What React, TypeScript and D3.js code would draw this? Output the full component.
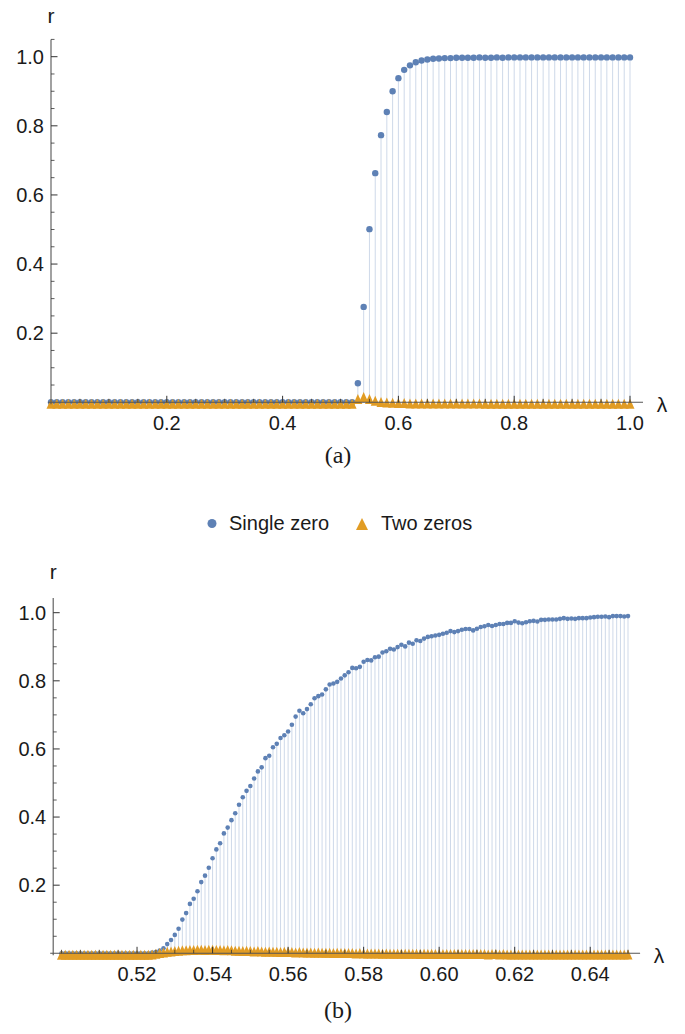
import * as d3 from 'd3';

// panel (a): lambda = 0.00 .. 1.00, step 0.01
const LAMBDA_A_START = 0;
const LAMBDA_A_STEP = 0.01;
const singleZeroA = [
  0, 0, 0, 0, 0, 0, 0, 0, 0, 0,
  0, 0, 0, 0, 0, 0, 0, 0, 0, 0,
  0, 0, 0, 0, 0, 0, 0, 0, 0, 0,
  0, 0, 0, 0, 0, 0, 0, 0, 0, 0,
  0, 0, 0, 0, 0, 0, 0, 0, 0, 0,
  0, 0, 0, 0.055, 0.276, 0.501, 0.663, 0.773, 0.840, 0.900,
  0.938, 0.962, 0.975, 0.984, 0.989, 0.992, 0.994, 0.995, 0.996, 0.996,
  0.997, 0.997, 0.997, 0.997, 0.998, 0.997, 0.997, 0.998, 0.997, 0.998,
  0.998, 0.998, 0.998, 0.998, 0.998, 0.998, 0.998, 0.998, 0.998, 0.998,
  0.998, 0.998, 0.998, 0.998, 0.998, 0.998, 0.998, 0.998, 0.998, 0.998,
  0.998,
];
const twoZerosA = [
  0, 0, 0, 0, 0, 0, 0, 0, 0, 0,
  0, 0, 0, 0, 0, 0, 0, 0, 0, 0,
  0, 0, 0, 0, 0, 0, 0, 0, 0, 0,
  0, 0, 0, 0, 0, 0, 0, 0, 0, 0,
  0, 0, 0, 0, 0, 0, 0, 0, 0, 0,
  0, 0, 0, 0.014, 0.020, 0.014, 0.009, 0.005, 0.004, 0.003,
  0.002, 0.002, 0.001, 0.001, 0.001, 0.001, 0.001, 0.001, 0.001, 0.001,
  0.001, 0.001, 0.001, 0.001, 0.001, 0, 0, 0, 0, 0,
  0, 0, 0, 0, 0, 0, 0, 0, 0, 0,
  0, 0, 0, 0, 0, 0, 0, 0, 0, 0,
  0,
];

// panel (b): lambda = 0.500 .. 0.650, step 0.001
const LAMBDA_B_START = 0.5;
const LAMBDA_B_STEP = 0.001;
const singleZeroB = [
  0, 0, 0, 0, 0, 0, 0, 0, 0, 0,
  0, 0, 0, 0, 0, 0, 0, 0, 0, 0,
  0, 0, 0, 0, 0.002, 0.004, 0.008, 0.015, 0.027, 0.039,
  0.054, 0.072, 0.099, 0.118, 0.145, 0.160, 0.182, 0.209, 0.228, 0.251,
  0.279, 0.305, 0.323, 0.352, 0.369, 0.391, 0.411, 0.436, 0.458, 0.477,
  0.491, 0.513, 0.534, 0.546, 0.573, 0.580, 0.605, 0.615, 0.632, 0.640,
  0.651, 0.671, 0.695, 0.712, 0.705, 0.717, 0.731, 0.749, 0.755, 0.760,
  0.775, 0.789, 0.792, 0.797, 0.807, 0.816, 0.825, 0.838, 0.837, 0.841,
  0.856, 0.861, 0.860, 0.869, 0.871, 0.883, 0.887, 0.894, 0.892, 0.899,
  0.906, 0.901, 0.912, 0.909, 0.919, 0.917, 0.924, 0.929, 0.931, 0.933,
  0.935, 0.938, 0.941, 0.946, 0.943, 0.946, 0.950, 0.952, 0.952, 0.948,
  0.953, 0.958, 0.960, 0.964, 0.961, 0.964, 0.967, 0.967, 0.970, 0.970,
  0.975, 0.971, 0.969, 0.972, 0.975, 0.976, 0.974, 0.979, 0.979, 0.980,
  0.980, 0.980, 0.982, 0.984, 0.982, 0.983, 0.982, 0.984, 0.984, 0.984,
  0.986, 0.987, 0.988, 0.988, 0.989, 0.987, 0.990, 0.990, 0.990, 0.989,
  0.990,
];
const twoZerosB = [
  0, 0, 0, 0, 0, 0, 0, 0, 0, 0,
  0, 0, 0, 0, 0, 0, 0, 0, 0, 0,
  0, 0, 0, 0, 0.001, 0.003, 0.005, 0.007, 0.009, 0.010,
  0.011, 0.012, 0.013, 0.013, 0.014, 0.014, 0.015, 0.015, 0.014, 0.015,
  0.015, 0.014, 0.014, 0.013, 0.014, 0.013, 0.012, 0.012, 0.011, 0.012,
  0.011, 0.010, 0.011, 0.010, 0.009, 0.010, 0.009, 0.009, 0.008, 0.009,
  0.008, 0.008, 0.007, 0.008, 0.007, 0.007, 0.007, 0.006, 0.007, 0.006,
  0.006, 0.006, 0.005, 0.006, 0.005, 0.005, 0.005, 0.005, 0.004, 0.005,
  0.004, 0.004, 0.004, 0.004, 0.004, 0.003, 0.004, 0.003, 0.003, 0.003,
  0.003, 0.003, 0.003, 0.003, 0.003, 0.002, 0.003, 0.002, 0.003, 0.002,
  0.002, 0.002, 0.002, 0.002, 0.002, 0.002, 0.002, 0.002, 0.002, 0.002,
  0.002, 0.002, 0.002, 0.001, 0.002, 0.002, 0.001, 0.002, 0.001, 0.001,
  0.001, 0.001, 0.001, 0.001, 0.001, 0.001, 0.001, 0.001, 0.001, 0.001,
  0.001, 0.001, 0.001, 0.001, 0.001, 0.001, 0.001, 0.001, 0.001, 0.001,
  0.001, 0.001, 0.001, 0.001, 0.001, 0.001, 0.001, 0.001, 0.001, 0.001,
  0.001,
];

const xTicksA = [0.2, 0.4, 0.6, 0.8, 1.0];
const xTicksB = [0.52, 0.54, 0.56, 0.58, 0.6, 0.62, 0.64];
const yTicks = [0.2, 0.4, 0.6, 0.8, 1.0];
const legendLabels = ['Single zero', 'Two zeros'];

const BLUE = '#5e81b5';
const ORANGE = '#e19c24';
const SANS = '"Liberation Sans", Arial, Helvetica, sans-serif';
const SERIF = '"Liberation Serif", "Times New Roman", serif';

// filled up-triangle marker, a bit below centre like the Mathematica glyph
function triangle(cx: number, cy: number, hw = 4.5, up = 3.5, down = 6.5) {
  const p = d3.path();
  p.moveTo(cx, cy - up);
  p.lineTo(cx + hw, cy + down);
  p.lineTo(cx - hw, cy + down);
  p.closePath();
  return p.toString();
}

type PanelProps = {
  single: number[];
  two: number[];
  start: number;
  step: number;
  xDomain: [number, number];
  xRange: [number, number];
  yRange: [number, number];
  axisXFrom: number;
  axisXTo: number;
  axisYTop: number;
  xTicks: number[];
  xMinor: number[];
  yMinor: number[];
  xFmt: (v: number) => string;
  dotR: number;
  rLabelY: number;
  caption: string;
  captionY: number;
};

function Panel(props: PanelProps) {
  const {
    single, two, start, step, xDomain, xRange, yRange,
    axisXFrom, axisXTo, axisYTop, xTicks, xMinor, yMinor, xFmt,
    dotR, rLabelY, caption, captionY,
  } = props;

  const x = d3.scaleLinear().domain(xDomain).range(xRange);
  const y = d3.scaleLinear().domain([0, 1]).range(yRange);
  const lam = (i: number) => start + i * step;
  const y0 = y(0);
  const ax = x(axisXFrom);

  return (
    <g>
      {/* stems down to the axis */}
      {single.map((v, i) => (
        <line
          key={'sb' + i}
          x1={x(lam(i))}
          x2={x(lam(i))}
          y1={y(v)}
          y2={y0}
          stroke={BLUE}
          strokeOpacity={0.3}
          strokeWidth={1}
        />
      ))}
      {two.map((v, i) => (
        <line
          key={'so' + i}
          x1={x(lam(i))}
          x2={x(lam(i))}
          y1={y(v)}
          y2={y0}
          stroke={ORANGE}
          strokeOpacity={0.3}
          strokeWidth={1}
        />
      ))}
      {/* markers */}
      {single.map((v, i) => (
        <circle key={'pb' + i} cx={x(lam(i))} cy={y(v)} r={dotR} fill={BLUE} />
      ))}
      {two.map((v, i) => (
        <path key={'po' + i} d={triangle(x(lam(i)), y(v))} fill={ORANGE} />
      ))}

      {/* x axis */}
      <line x1={ax - 3} x2={x(axisXTo)} y1={y0} y2={y0} stroke="#555" strokeWidth={1.1} />
      {xMinor.map(t => (
        <line key={'xm' + t} x1={x(t)} x2={x(t)} y1={y0} y2={y0 - 3.5} stroke="#333" strokeWidth={0.8} />
      ))}
      {xTicks.map(t => (
        <g key={'xt' + t}>
          <line x1={x(t)} x2={x(t)} y1={y0} y2={y0 - 6.5} stroke="#333" strokeWidth={1} />
          <text x={x(t)} y={y0 + 28} textAnchor="middle" fontSize={20} fontFamily={SANS} fill="#1a1a1a">
            {xFmt(t)}
          </text>
        </g>
      ))}
      <text x={x(axisXTo) + 19} y={y0 + 9.5} textAnchor="middle" fontSize={21} fontFamily={SANS} fill="#1a1a1a">
        λ
      </text>

      {/* y axis */}
      <line x1={ax} x2={ax} y1={y0 + 2} y2={y(axisYTop)} stroke="#555" strokeWidth={1.1} />
      {yMinor.map(t => (
        <line key={'ym' + t} x1={ax} x2={ax + 3.5} y1={y(t)} y2={y(t)} stroke="#333" strokeWidth={0.8} />
      ))}
      {yTicks.map(t => (
        <g key={'yt' + t}>
          <line x1={ax} x2={ax + 6.5} y1={y(t)} y2={y(t)} stroke="#333" strokeWidth={1} />
          <text x={ax - 7} y={y(t)} dy="0.36em" textAnchor="end" fontSize={20} fontFamily={SANS} fill="#1a1a1a">
            {t.toFixed(1)}
          </text>
        </g>
      ))}
      <text x={ax} y={rLabelY} textAnchor="middle" fontSize={21} fontFamily={SANS} fill="#1a1a1a">
        r
      </text>

      <text x={338} y={captionY} textAnchor="middle" fontSize={24} fontFamily={SERIF} fill="#1a1a1a">
        {caption}
      </text>
    </g>
  );
}

export default function App() {
  const minorA = d3.range(1, 21).map(i => +(i * 0.05).toFixed(2)).filter(t => !xTicksA.includes(t));
  const minorYA = d3.range(1, 22).map(i => +(i * 0.05).toFixed(2)).filter(t => !yTicks.includes(t));
  const minorB = d3.range(100, 131).map(i => +(i * 0.005).toFixed(3)).filter(t => !xTicksB.includes(t));
  const minorYB = d3.range(1, 21).map(i => +(i * 0.05).toFixed(2)).filter(t => !yTicks.includes(t));

  return (
    <svg
      width={685}
      height={1034}
      style={{ position: 'absolute', left: 0, top: 0, display: 'block', background: '#fff' }}
    >
      <rect width={685} height={1034} fill="#fff" />
      <Panel
        single={singleZeroA}
        two={twoZerosA}
        start={LAMBDA_A_START}
        step={LAMBDA_A_STEP}
        xDomain={[0, 1]}
        xRange={[51, 630]}
        yRange={[402.3, 56.7]}
        axisXFrom={0}
        axisXTo={1.0225}
        axisYTop={1.05}
        xTicks={xTicksA}
        xMinor={minorA}
        yMinor={minorYA}
        xFmt={v => v.toFixed(1)}
        dotR={3.2}
        rLabelY={22.5}
        caption="(a)"
        captionY={463}
      />

      {/* legend */}
      <g fontFamily={SANS} fontSize={20} fill="#1a1a1a">
        <circle cx={212} cy={523.5} r={4.5} fill={BLUE} />
        <text x={229} y={530}>{legendLabels[0]}</text>
        <path d={triangle(362, 524, 6, 6, 6)} fill={ORANGE} />
        <text x={381} y={530}>{legendLabels[1]}</text>
      </g>

      <Panel
        single={singleZeroB}
        two={twoZerosB}
        start={LAMBDA_B_START}
        step={LAMBDA_B_STEP}
        xDomain={[0.5, 0.65]}
        xRange={[61.5, 628]}
        yRange={[953.3, 612.7]}
        axisXFrom={0.4978}
        axisXTo={0.6532}
        axisYTop={1.043}
        xTicks={xTicksB}
        xMinor={minorB}
        yMinor={minorYB}
        xFmt={v => v.toFixed(2)}
        dotR={2.3}
        rLabelY={579}
        caption="(b)"
        captionY={1018}
      />
    </svg>
  );
}
